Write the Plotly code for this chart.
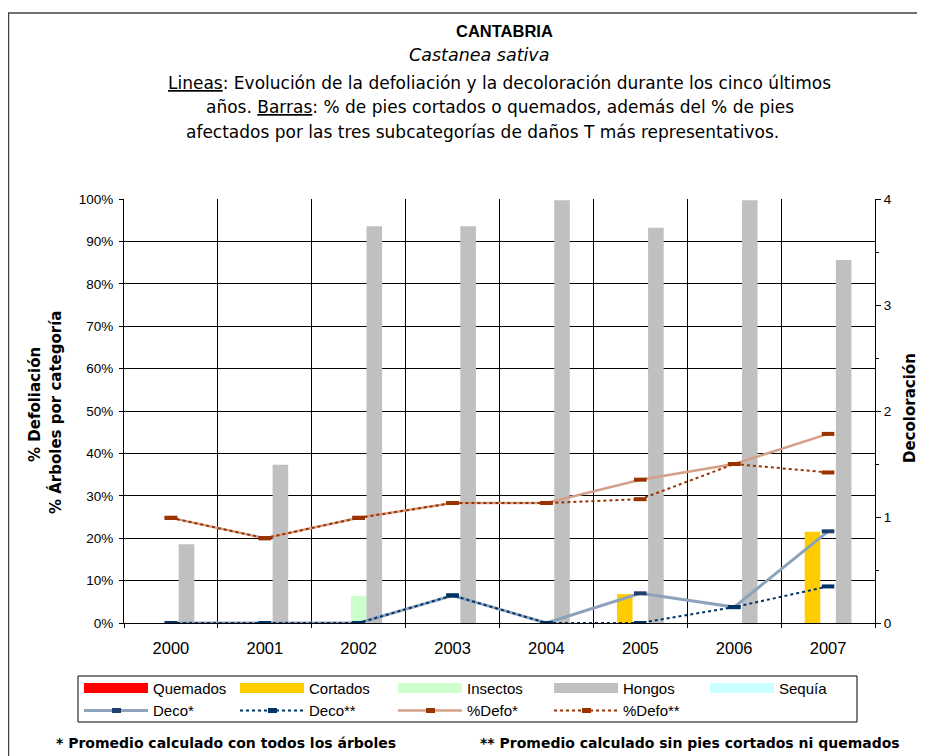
import plotly.graph_objects as go

years = [2000, 2001, 2002, 2003, 2004, 2005, 2006, 2007]
year_labels = ["2000", "2001", "2002", "2003", "2004", "2005", "2006", "2007"]

# Bars (% of trees)
quemados = [0, 0, 0, 0, 0, 0, 0, 0]
cortados = [0, 0, 0, 0, 0, 6.8, 0, 21.5]
insectos = [0, 0, 6.4, 0, 0, 0, 0, 0]
hongos = [18.6, 37.3, 93.6, 93.6, 99.7, 93.2, 99.7, 85.6]
sequia = [0, 0, 0, 0, 0, 0, 0, 0]

# Lines
deco_all = [0, 0, 0, 0.26, 0, 0.28, 0.15, 0.865]      # Deco*
deco_sin = [0, 0, 0, 0.26, 0, 0, 0.15, 0.345]         # Deco**
defo_all = [24.8, 20.0, 24.8, 28.3, 28.3, 33.8, 37.5, 44.6]  # %Defo*
defo_sin = [24.8, 20.0, 24.8, 28.3, 28.3, 29.2, 37.5, 35.5]  # %Defo**

FONT = "Liberation Sans, Arial, sans-serif"
WIDE = "DejaVu Sans, Liberation Sans, sans-serif"

bar_specs = [("Quemados", quemados, "#FF0000"),
             ("Cortados", cortados, "#FFCC00"),
             ("Insectos", insectos, "#CCFFCC"),
             ("Hongos", hongos, "#C0C0C0"),
             ("Sequía", sequia, "#CCFFFF")]
line_specs = [("Deco*", deco_all, "y2", "#8DA2BB", 3, "solid", "#1F3F6F"),
              ("Deco**", deco_sin, "y2", "#003366", 2, "dot", "#003366"),
              ("%Defo*", defo_all, "y", "#D4A088", 2.5, "solid", "#993300"),
              ("%Defo**", defo_sin, "y", "#993300", 2, "dot", "#993300")]

fig = go.Figure()
for name, vals, col in bar_specs:
    fig.add_trace(go.Bar(x=years, y=vals, name=name, showlegend=False,
                         marker=dict(color=col, line=dict(width=0))))
for name, vals, ax, col, w, dash, mcol in line_specs:
    fig.add_trace(go.Scatter(x=years, y=vals, name=name, yaxis=ax, mode="lines+markers", showlegend=False,
                             line=dict(color=col, width=w, dash=dash),
                             marker=dict(symbol="line-ew", size=9, color=mcol, line=dict(color=mcol, width=4))))

# The page adds an 8px body margin, so the figure is 8px smaller on each axis.
fig.update_layout(
    width=917, height=748,
    margin=dict(l=116, r=50, t=191, b=133),
    paper_bgcolor="white", plot_bgcolor="white",
    font=dict(family=FONT, size=13, color="black"),
    barmode="group", bargap=0.17, bargroupgap=0,
    showlegend=False,
    xaxis=dict(range=[1999.5, 2007.5], tickmode="array", tickvals=years, ticktext=year_labels,
               showgrid=False, ticks="", showline=True, linecolor="black", linewidth=1,
               tickfont=dict(size=16.5), zeroline=False, ticklabelstandoff=10,
               minor=dict(tick0=1999.5, dtick=1, showgrid=True, gridcolor="black", gridwidth=1,
                          ticks="outside", ticklen=4, tickcolor="black")),
    yaxis=dict(range=[0, 100], dtick=10, ticksuffix="%", showgrid=True, gridcolor="black",
               gridwidth=1, showline=True, linecolor="black", linewidth=1, ticks="outside",
               ticklen=4, tickcolor="black", zeroline=False, tickfont=dict(size=13.5),
               ticklabelstandoff=3),
    yaxis2=dict(range=[0, 4], dtick=1, overlaying="y", side="right", showgrid=False,
                showline=True, linecolor="black", linewidth=1, ticks="outside", ticklen=5,
                tickcolor="black", zeroline=False, tickfont=dict(size=13.5),
                minor=dict(dtick=0.5, ticks="outside", ticklen=3, tickcolor="black")),
)

# helpers: page pixel -> paper coords (plot area spans page x 124..875, y 199..623)
def ypaper(px):
    return (623 - px) / 424.0

def xpaper(px):
    return (px - 124) / 751.0

ann = []
def text(t, x, y, size, family=FONT, xanchor="center", angle=0):
    ann.append(dict(text=t, x=xpaper(x), y=ypaper(y), xref="paper", yref="paper", showarrow=False,
                    xanchor=xanchor, yanchor="middle", textangle=angle,
                    font=dict(family=family, size=size, color="black")))

text("<b>CANTABRIA</b>", 505, 31, 16.5)
text("<i>Castanea sativa</i>", 479, 55, 17.5, family=WIDE)
text("<u>Lineas</u>: Evolución de la defoliación y la decoloración durante los cinco últimos", 499, 83, 17, family=WIDE)
text("años. <u>Barras</u>: % de pies cortados o quemados, además del % de pies", 500, 107.5, 17, family=WIDE)
text("afectados por las tres subcategorías de daños T más representativos.", 482, 132, 17, family=WIDE)
text("<b>% Defoliación</b>", 35, 405, 15, family=WIDE, angle=-90)
text("<b>% Árboles por categoría</b>", 55, 412, 15, family=WIDE, angle=-90)
text("<b>Decoloración</b>", 910, 408, 15, family=WIDE, angle=-90)
text("<b>* Promedio calculado con todos los árboles</b>", 226, 743, 14, family=WIDE)
text("<b>** Promedio calculado sin pies cortados ni quemados</b>", 690, 743, 14, family=WIDE)

shapes = []
# outer chart border (only left/top edges visible)
shapes.append(dict(type="rect", xref="paper", yref="paper", x0=xpaper(8.5), x1=xpaper(960),
                   y0=ypaper(790), y1=ypaper(13), line=dict(color="#444444", width=1.5),
                   fillcolor="rgba(0,0,0,0)", layer="below"))
# legend box
shapes.append(dict(type="rect", xref="paper", yref="paper", x0=xpaper(78), x1=xpaper(857),
                   y0=ypaper(722), y1=ypaper(676), line=dict(color="black", width=1),
                   fillcolor="white", layer="above"))
col_x = [84, 240, 398, 554, 710]
row1, row2 = 688, 710.5
for i, (name, vals, col) in enumerate(bar_specs):
    x0 = col_x[i]
    shapes.append(dict(type="rect", xref="paper", yref="paper", x0=xpaper(x0), x1=xpaper(x0 + 64),
                       y0=ypaper(row1 + 5), y1=ypaper(row1 - 5), line=dict(width=0), fillcolor=col,
                       layer="above"))
    text(name, x0 + 67, row1, 15, xanchor="left")
for i, (name, vals, ax, col, w, dash, mcol) in enumerate(line_specs):
    x0 = col_x[i]
    shapes.append(dict(type="line", xref="paper", yref="paper", x0=xpaper(x0), x1=xpaper(x0 + 64),
                       y0=ypaper(row2), y1=ypaper(row2), line=dict(color=col, width=w, dash=dash),
                       layer="above"))
    shapes.append(dict(type="rect", xref="paper", yref="paper", x0=xpaper(x0 + 28), x1=xpaper(x0 + 37),
                       y0=ypaper(row2 + 2.5), y1=ypaper(row2 - 2.5), line=dict(width=0), fillcolor=mcol,
                       layer="above"))
    text(name, x0 + 67, row2, 15, xanchor="left")

fig.update_layout(annotations=ann, shapes=shapes)

fig.write_html("out.html")
